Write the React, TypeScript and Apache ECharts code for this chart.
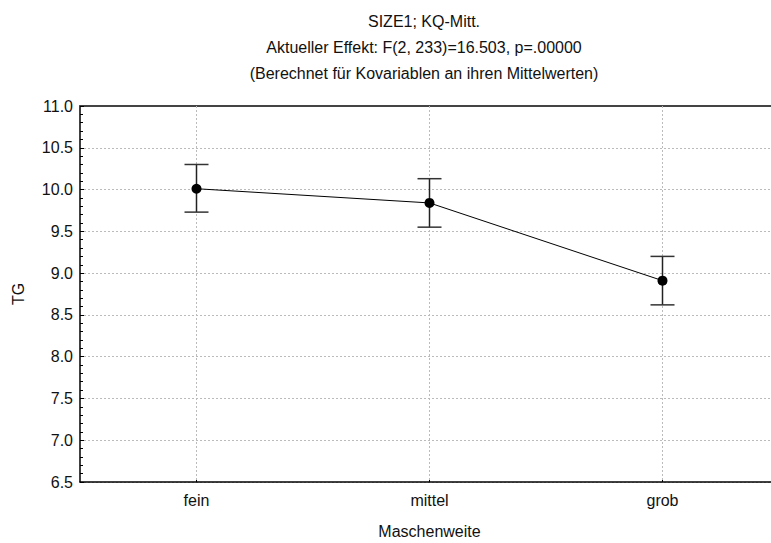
import React, { useEffect, useRef } from "react";
import * as echarts from "echarts";

const categories = ["fein", "mittel", "grob"];
const means = [10.01, 9.84, 8.91];
const lower = [9.73, 9.55, 8.62];
const upper = [10.3, 10.13, 9.2];
const titleLines = [
  "SIZE1; KQ-Mitt.",
  "Aktueller Effekt: F(2, 233)=16.503, p=.00000",
  "(Berechnet für Kovariablen an ihren Mittelwerten)",
];
const yName = "TG";
const xName = "Maschenweite";

const FONT = "'Liberation Sans', Arial, sans-serif";
const FS = 16;
const GRID_COLOR = "#bbb";

export default function App() {
  const ref = useRef<HTMLDivElement>(null);
  useEffect(() => {
    if (!ref.current) return;
    const chart = echarts.init(ref.current, null, { renderer: "svg" });
    const errData = categories.map((c, i) => [i, lower[i], upper[i]]);
    const vGridData = categories.map((c, i) => [i]);
    chart.setOption({
      animation: false,
      backgroundColor: "#fff",
      textStyle: { fontFamily: FONT },
      graphic: titleLines.map((t, i) => ({
        type: "text",
        x: 424,
        y: 21 + i * 26,
        style: {
          text: t,
          fill: "#111",
          font: `${FS}px ${FONT}`,
          textAlign: "center",
          textVerticalAlign: "middle",
        },
      })),
      grid: { left: 80, top: 106, width: 699, height: 376, outerBoundsMode: "none", containLabel: false },
      xAxis: [
        {
          type: "category",
          data: categories,
          boundaryGap: true,
          name: xName,
          nameLocation: "middle",
          nameGap: 41,
          nameTextStyle: { color: "#111", fontSize: FS, fontFamily: FONT },
          axisLine: { show: true, lineStyle: { color: "#000", width: 1.5 } },
          axisTick: { show: true, inside: true, alignWithLabel: true, length: 3, lineStyle: { color: "#000" } },
          axisLabel: { color: "#111", fontSize: FS, fontFamily: FONT, margin: 10 },
          splitLine: { show: false },
        },
        {
          type: "category",
          data: categories,
          position: "top",
          axisLine: { show: true, lineStyle: { color: "#444", width: 2 } },
          axisTick: { show: false },
          axisLabel: { show: false },
          splitLine: { show: false },
        },
      ],
      yAxis: {
        type: "value",
        min: 6.5,
        max: 11,
        interval: 0.5,
        name: yName,
        nameLocation: "middle",
        nameGap: 54,
        nameTextStyle: { color: "#111", fontSize: FS, fontFamily: FONT },
        axisLine: { show: true, lineStyle: { color: "#000", width: 1.5 } },
        axisTick: { show: true, inside: true, length: 4, lineStyle: { color: "#000" } },
        minorTick: { show: true, splitNumber: 5, length: 3, lineStyle: { color: "#000" } },
        axisLabel: {
          color: "#111",
          fontSize: FS,
          fontFamily: FONT,
          margin: 7,
          formatter: (v: number) => v.toFixed(1),
        },
        splitLine: { show: true, lineStyle: { color: GRID_COLOR, type: [2, 2], width: 1 } },
      },
      series: [
        {
          type: "custom",
          data: vGridData,
          z: 1,
          silent: true,
          renderItem: (params: any, api: any) => {
            const cs = params.coordSys;
            const p = api.coord([api.value(0), 6.5]);
            return {
              type: "line",
              shape: { x1: p[0], y1: cs.y, x2: p[0], y2: cs.y + cs.height },
              style: { stroke: GRID_COLOR, lineWidth: 1, lineDash: [2, 2] },
            };
          },
        },
        {
          type: "custom",
          data: errData,
          z: 3,
          renderItem: (params: any, api: any) => {
            const x = api.value(0);
            const lo = api.coord([x, api.value(1)]);
            const hi = api.coord([x, api.value(2)]);
            const hw = 12;
            return {
              type: "group",
              children: [
                { type: "line", shape: { x1: lo[0], y1: lo[1], x2: hi[0], y2: hi[1] }, style: { stroke: "#222", lineWidth: 1.5 } },
                { type: "line", shape: { x1: lo[0] - hw, y1: lo[1], x2: lo[0] + hw, y2: lo[1] }, style: { stroke: "#333", lineWidth: 1.5 } },
                { type: "line", shape: { x1: hi[0] - hw, y1: hi[1], x2: hi[0] + hw, y2: hi[1] }, style: { stroke: "#333", lineWidth: 1.5 } },
              ],
            };
          },
        },
        {
          type: "line",
          data: means,
          z: 4,
          symbol: "circle",
          symbolSize: 10,
          itemStyle: { color: "#000" },
          lineStyle: { color: "#000", width: 1 },
        },
      ],
    });
    return () => chart.dispose();
  }, []);
  return (
    <div
      ref={ref}
      style={{ position: "fixed", left: 0, top: 0, width: 771, height: 543, overflow: "hidden", background: "#fff" }}
    />
  );
}
